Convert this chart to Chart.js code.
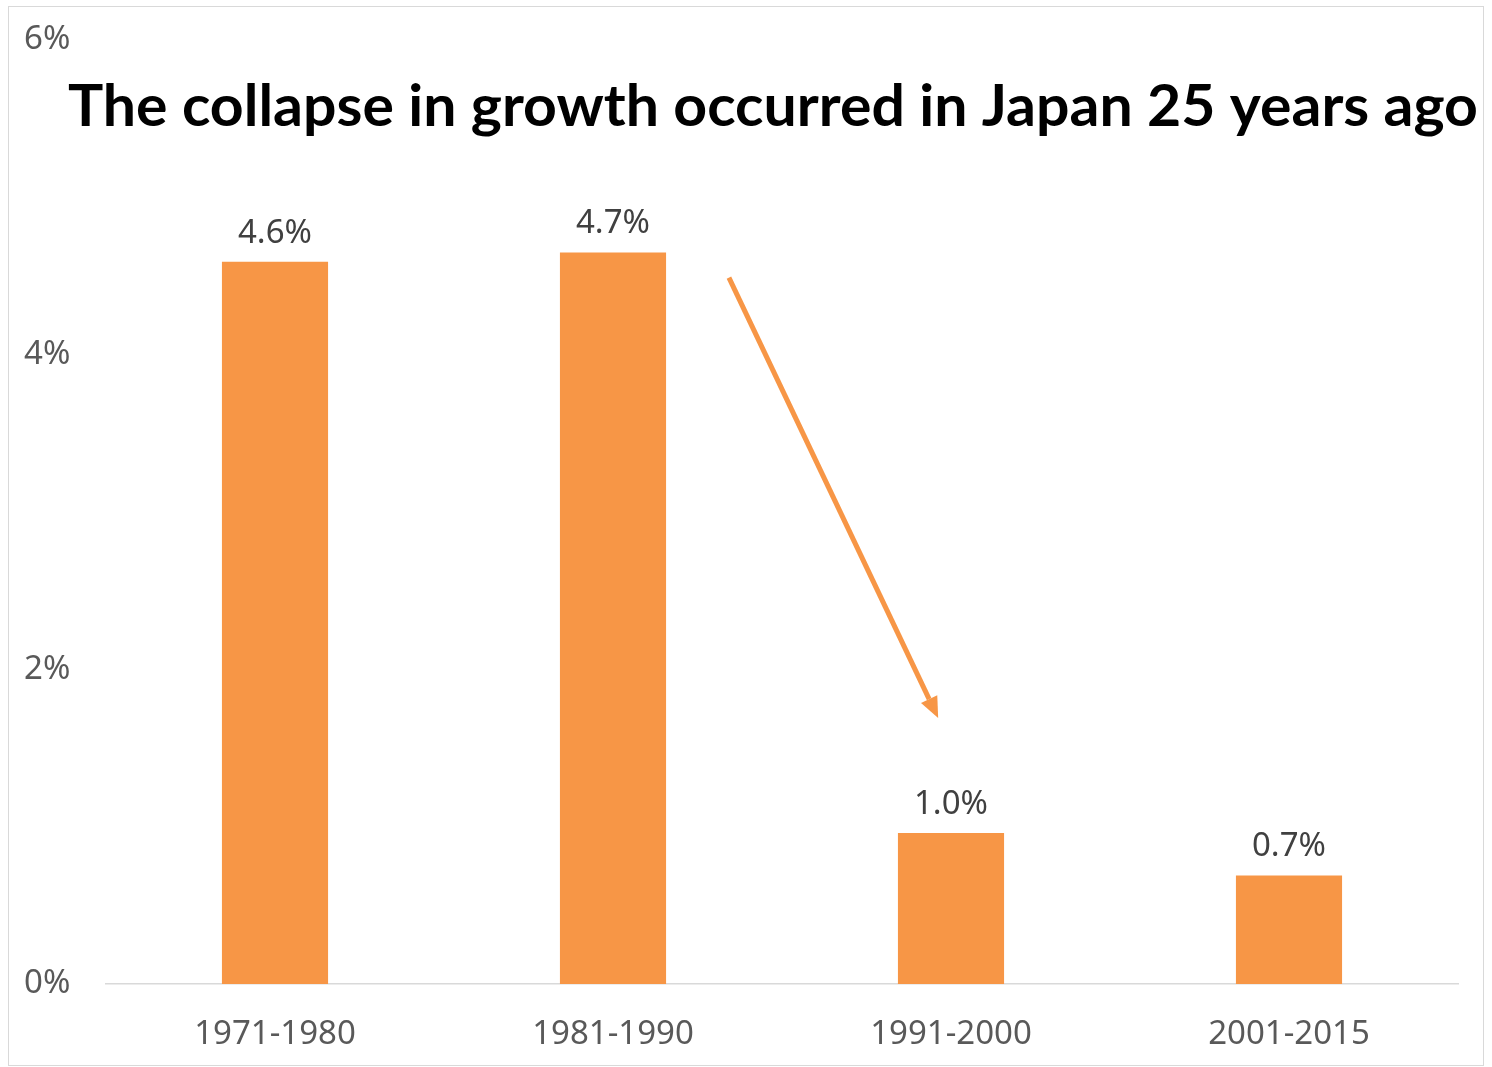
<!DOCTYPE html>
<html>
  <head>
    <script src="https://cdn.jsdelivr.net/npm/chart.js"></script>
    <style>
      body { margin: 0; background: #fff; }
      #wrap {
        position: absolute; left: 8px; top: 6px;
        width: 1474px; height: 1058px;
        border: 1px solid #d9d9d9;
      }
    </style>
  </head>
  <body>
    <div id="wrap"><canvas id="growthChart"></canvas></div>

    <script>
      // Japan real GDP growth, average per decade (%)
      const periods = ['1971-1980', '1981-1990', '1991-2000', '2001-2015'];
      const growth = [4.59, 4.65, 0.96, 0.69];
      const yTicks = [0, 2, 4, 6];
      const titleText = 'The collapse in growth occurred in Japan 25 years ago';
      // arrow from just right of the 1980s bar down to the 1990s bar: [category index, value]
      const arrowFrom = [1.343, 4.49];
      const arrowTo = [1.962, 1.69];

      const orange = '#F79646';
      const font = 'Noto Sans';

      const barLabels = {
        id: 'barLabels',
        afterDatasetsDraw(chart) {
          const ctx = chart.ctx;
          const meta = chart.getDatasetMeta(0);
          ctx.save();
          ctx.font = '33px "' + font + '"';
          ctx.fillStyle = '#404040';
          ctx.textAlign = 'center';
          ctx.textBaseline = 'alphabetic';
          meta.data.forEach((bar, i) => {
            ctx.fillText(growth[i].toFixed(1) + '%', bar.x, bar.y - 19);
          });
          ctx.restore();
        }
      };

      const arrow = {
        id: 'arrow',
        afterDatasetsDraw(chart) {
          const x = chart.scales.x, y = chart.scales.y;
          const x1 = x.getPixelForValue(arrowFrom[0]), y1 = y.getPixelForValue(arrowFrom[1]);
          const x2 = x.getPixelForValue(arrowTo[0]), y2 = y.getPixelForValue(arrowTo[1]);
          const ang = Math.atan2(y2 - y1, x2 - x1);
          const headLen = 21, headW = 9;
          const bx = x2 - headLen * Math.cos(ang), by = y2 - headLen * Math.sin(ang);
          const ctx = chart.ctx;
          ctx.save();
          ctx.strokeStyle = orange;
          ctx.fillStyle = orange;
          ctx.lineWidth = 5;
          ctx.beginPath();
          ctx.moveTo(x1, y1);
          ctx.lineTo(bx, by);
          ctx.stroke();
          ctx.beginPath();
          ctx.moveTo(x2, y2);
          ctx.lineTo(bx + headW * Math.sin(ang), by - headW * Math.cos(ang));
          ctx.lineTo(bx - headW * Math.sin(ang), by + headW * Math.cos(ang));
          ctx.closePath();
          ctx.fill();
          ctx.restore();
        }
      };

      // title sits over the plot, like the pasted text box in the original
      const bigTitle = {
        id: 'bigTitle',
        afterDraw(chart) {
          const ctx = chart.ctx;
          ctx.save();
          ctx.font = 'bold 58px Lato';
          const w = ctx.measureText(titleText).width;
          ctx.translate(59, 119);
          ctx.scale(1410 / w, 1);
          ctx.fillStyle = '#000';
          ctx.textAlign = 'left';
          ctx.textBaseline = 'alphabetic';
          ctx.fillText(titleText, 0, 0);
          ctx.restore();
        }
      };

      new Chart(document.getElementById('growthChart'), {
        type: 'bar',
        data: {
          labels: periods,
          datasets: [{
            data: growth,
            backgroundColor: orange,
            borderWidth: 0,
            categoryPercentage: 1,
            barPercentage: 0.314
          }]
        },
        options: {
          responsive: true,
          maintainAspectRatio: false,
          animation: false,
          layout: { padding: { left: 15, right: 25, top: 33, bottom: 10 } },
          plugins: {
            legend: { display: false },
            tooltip: { enabled: false }
          },
          scales: {
            x: {
              afterFit(scale) { scale.height = 71; },
              grid: { display: false, drawTicks: false },
              border: { display: true, color: '#d9d9d9', width: 1.5 },
              ticks: { color: '#595959', font: { family: font, size: 33 }, padding: 31, maxRotation: 0 }
            },
            y: {
              min: 0,
              max: 6,
              afterBuildTicks(scale) { scale.ticks = yTicks.map(v => ({ value: v })); },
              afterFit(scale) { scale.width = 82; },
              grid: { display: false, drawTicks: false },
              border: { display: false },
              ticks: {
                color: '#595959',
                font: { family: font, size: 33 },
                crossAlign: 'far',
                callback: v => v + '%'
              }
            }
          }
        },
        plugins: [barLabels, arrow, bigTitle]
      });
    </script>
  </body>
</html>
